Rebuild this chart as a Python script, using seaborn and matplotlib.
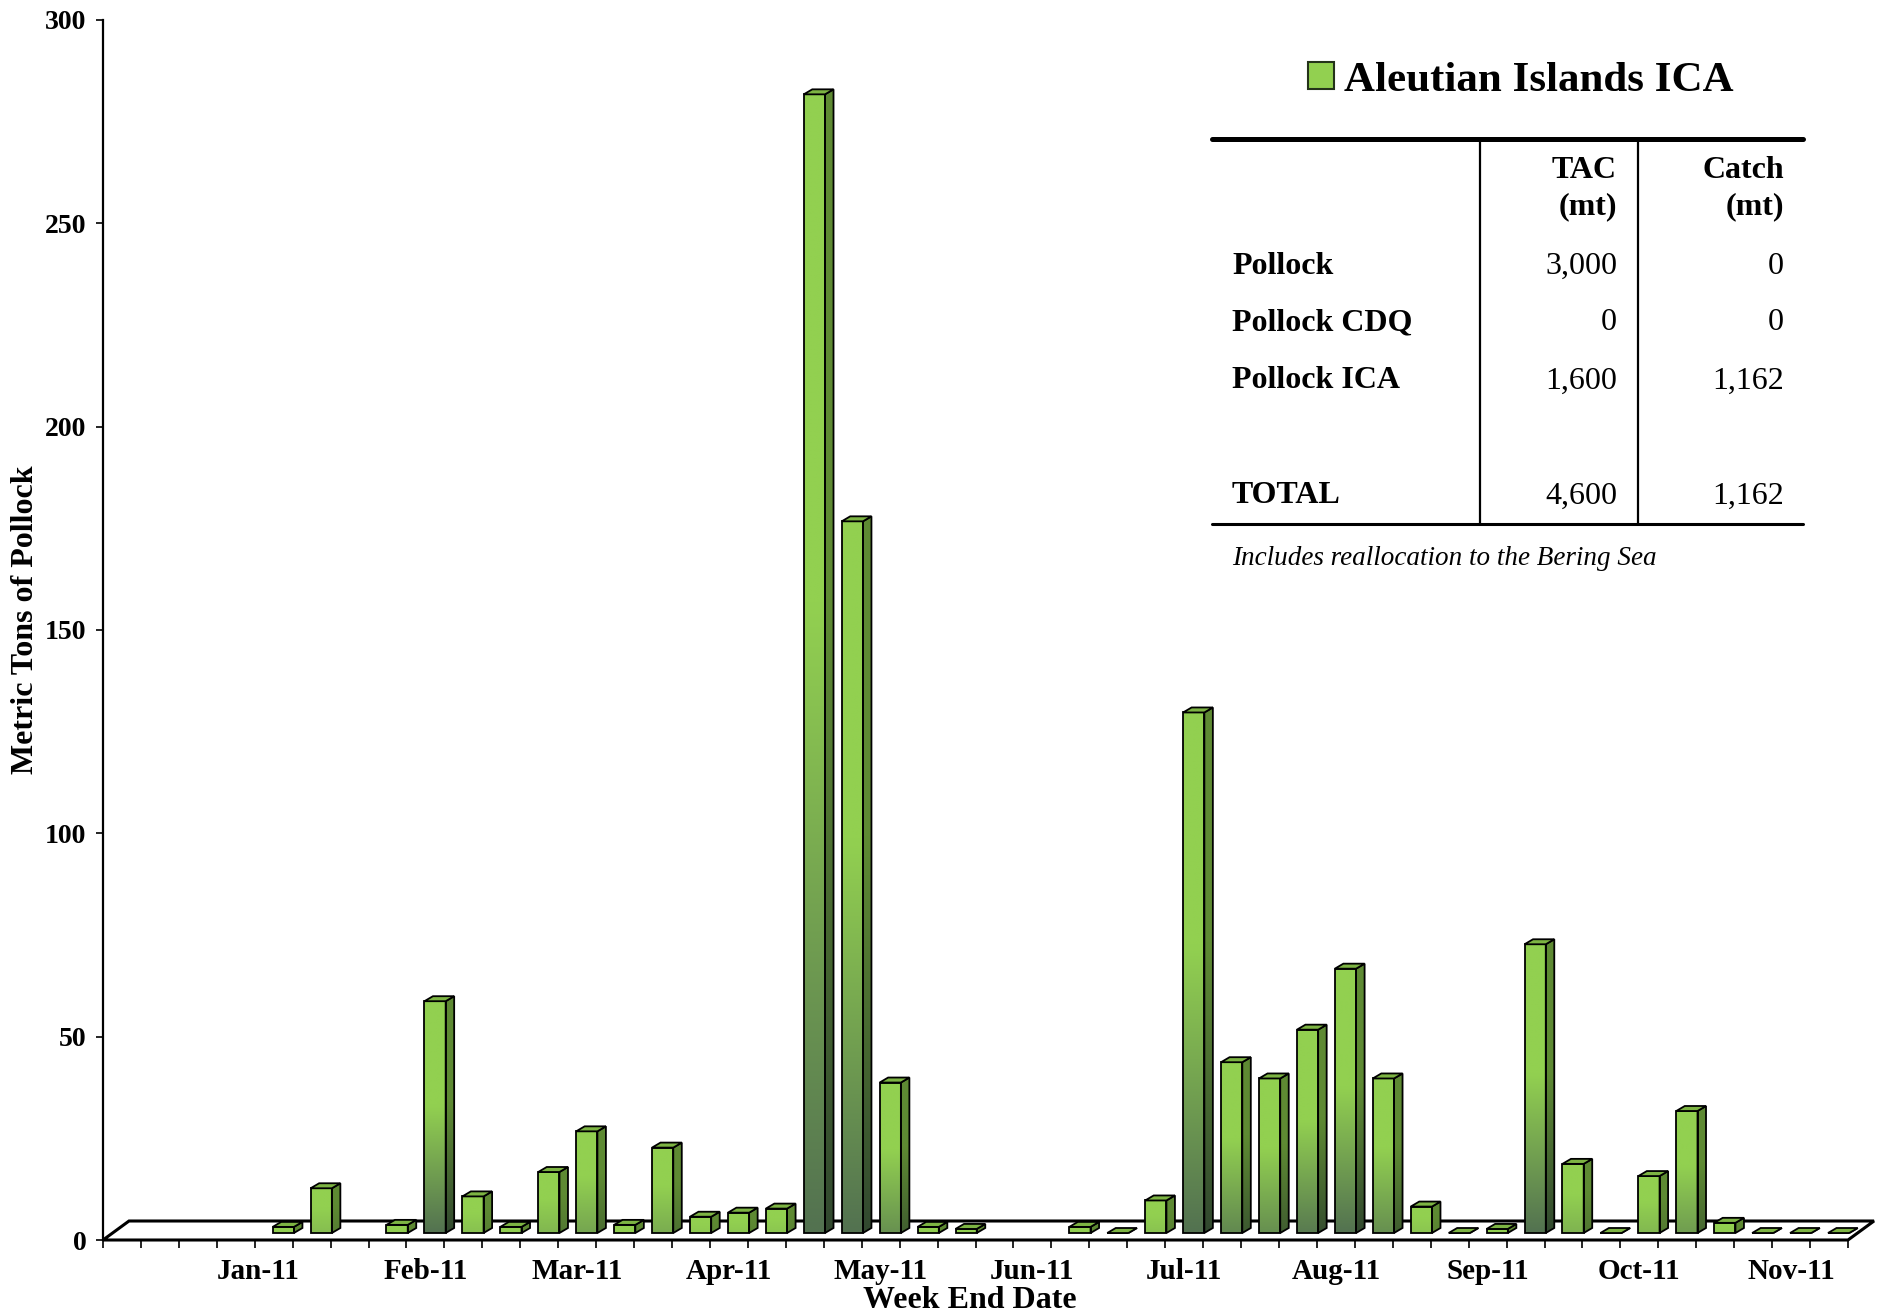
import numpy as np
import pandas as pd
import matplotlib
matplotlib.use("Agg")
import matplotlib.pyplot as plt
import seaborn as sns
from matplotlib.patches import Polygon, Patch
from matplotlib.colors import to_rgb

# weekly pollock catch in the Aleutian Islands ICA (mt), nan = no report
week_no = list(range(1, 47))
catch_mt = [np.nan, np.nan, np.nan, np.nan, 1.5, 11, np.nan, 2, 57, 9,
            1.5, 15, 25, 2, 21, 4, 5, 6, 280, 175,
            37, 1.5, 1, np.nan, np.nan, 1.5, 0, 8, 128, 42,
            38, 50, 65, 38, 6.5, 0, 1, 71, 17, 0,
            14, 30, 2.5, 0, 0, 0]
month_labels = ["Jan-11", "Feb-11", "Mar-11", "Apr-11", "May-11", "Jun-11",
                "Jul-11", "Aug-11", "Sep-11", "Oct-11", "Nov-11"]
month_pos = [3.6, 8, 12, 16, 20, 24, 28, 32, 36, 40, 44]

# summary table
tbl_rows = ["Pollock", "Pollock CDQ", "Pollock ICA", "TOTAL"]
tbl_tac = ["3,000", "0", "1,600", "4,600"]
tbl_catch = ["0", "0", "1,162", "1,162"]

df = pd.DataFrame({"week": [str(w) for w in week_no], "catch": catch_mt})

sns.set_theme(style="white")
plt.rcParams["font.family"] = ["Liberation Serif", "DejaVu Serif"]
plt.rcParams["text.color"] = "black"
plt.rcParams["xtick.color"] = "black"
plt.rcParams["ytick.color"] = "black"
plt.rcParams["axes.labelcolor"] = "black"

W, H = 1879, 1316
fig = plt.figure(figsize=(W / 100, H / 100), dpi=100)
fig.patch.set_facecolor("white")

# axes box in pixels
ax_l, ax_b, ax_w, ax_h = 103, 76, 1745, 1220
ax = fig.add_axes([ax_l / W, ax_b / H, ax_w / W, ax_h / H])
ax.set_facecolor("none")

n = len(week_no)
ymax = 300
px_slot = ax_w / n
px_unit = ax_h / ymax

green = "#92D050"
sns.barplot(data=df, x="week", y="catch", order=list(df["week"]), color=green,
            saturation=1, width=0.56, errorbar=None, edgecolor="black",
            linewidth=1.3, ax=ax, zorder=4)

# fake 3d: bars sit a bit behind the front edge of the floor
sx, sy = 9.6 / px_slot, 7.0 / px_unit
ddx, ddy = 8.5 / px_slot, 5.0 / px_unit
fdx, fdy = 26 / px_slot, 19 / px_unit

front_hi = np.array(to_rgb("#92D050"))
front_lo = np.array(to_rgb("#537250"))
side_hi = np.array(to_rgb("#5E8A33"))
side_lo = np.array(to_rgb("#32492F"))
top_col = "#7DB443"


def grad(hi, lo, h):
    t = np.linspace(0, 1, 120)
    k = min(1.0, h / 55.0)
    mix = np.clip((0.55 - t) / 0.55, 0, 1) * k
    cols = hi[None, :] * (1 - mix[:, None]) + lo[None, :] * mix[:, None]
    return cols[:, None, :]


# floor
floor = Polygon([(-0.5, 0), (n - 0.5, 0), (n - 0.5 + fdx, fdy), (-0.5 + fdx, fdy)],
                closed=True, facecolor="white", edgecolor="black", lw=2.2,
                zorder=1, clip_on=False)
ax.add_patch(floor)

for p in list(ax.patches):
    if p is floor:
        continue
    h = p.get_height()
    if not np.isfinite(h):
        continue
    xa = p.get_x() + sx
    xb = xa + p.get_width()
    ya = sy
    yb = sy + h
    p.set_x(xa)
    p.set_y(ya)
    p.set_facecolor("none")
    p.set_clip_on(False)
    if h > 0:
        im = ax.imshow(grad(front_hi, front_lo, h), extent=[xa, xb, ya, yb],
                       origin="lower", aspect="auto", zorder=3, interpolation="bilinear")
        im.set_clip_path(p)
    side = Polygon([(xb, ya), (xb + ddx, ya + ddy), (xb + ddx, yb + ddy), (xb, yb)],
                   closed=True, facecolor="none", edgecolor="black", lw=1.3,
                   zorder=4, clip_on=False)
    ax.add_patch(side)
    ims = ax.imshow(grad(side_hi, side_lo, h), extent=[xb, xb + ddx, ya, yb + ddy],
                    origin="lower", aspect="auto", zorder=3, interpolation="bilinear")
    ims.set_clip_path(side)
    top = Polygon([(xa, yb), (xb, yb), (xb + ddx, yb + ddy), (xa + ddx, yb + ddy)],
                  closed=True, facecolor=top_col, edgecolor="black", lw=1.3,
                  zorder=4, clip_on=False)
    ax.add_patch(top)

ax.set_xlim(-0.5, n - 0.5)
ax.set_ylim(0, ymax)

for s in ["top", "right", "bottom"]:
    ax.spines[s].set_visible(False)
ax.spines["left"].set_color("black")
ax.spines["left"].set_linewidth(1.6)

ax.set_yticks(range(0, 301, 50))
ax.tick_params(axis="y", left=True, length=5, width=1.2, color="black",
               labelcolor="black", pad=7, labelsize=20)
for t in ax.get_yticklabels():
    t.set_fontweight("bold")

ax.set_xticks(month_pos)
ax.set_xticklabels(month_labels, fontsize=21, fontweight="bold", color="black")
ax.set_xticks(np.arange(-0.5, n, 1), minor=True)
ax.tick_params(axis="x", which="major", bottom=True, length=0, pad=13)
ax.tick_params(axis="x", which="minor", bottom=True, length=6, width=1.2, color="black")
ax.set_xlabel("")
ax.set_ylabel("")
ax.grid(False)

fig.text(970 / W, 1 - 1301 / H, "Week End Date", ha="center", va="center",
         fontsize=23, fontweight="bold", color="black")
fig.text(26 / W, 1 - 620 / H, "Metric Tons of Pollock", ha="center", va="center",
         rotation=90, fontsize=23, fontweight="bold", color="black")

# legend
leg = fig.legend(handles=[Patch(facecolor=green, edgecolor="#24331a", lw=1.5,
                                label="Aleutian Islands ICA")],
                 loc="center", bbox_to_anchor=(1521 / W, 1 - 81 / H), frameon=False,
                 handlelength=0.6, handleheight=0.6, handletextpad=0.25,
                 prop={"family": "Liberation Serif", "weight": "bold", "size": 31})
for t in leg.get_texts():
    t.set_color("black")


# table with catch vs TAC
def fx(px):
    return px / W


def fy(py):
    return 1 - py / H


fig.add_artist(plt.Line2D([fx(1212), fx(1803)], [fy(139), fy(139)], color="black", lw=3.6))
fig.add_artist(plt.Line2D([fx(1212), fx(1803)], [fy(524), fy(524)], color="black", lw=2.2))
for vx in [1480, 1638]:
    fig.add_artist(plt.Line2D([fx(vx), fx(vx)], [fy(139), fy(524)], color="black", lw=1.6))

fig.text(fx(1617), fy(170), "TAC", ha="right", va="center", fontsize=23, fontweight="bold")
fig.text(fx(1617), fy(207), "(mt)", ha="right", va="center", fontsize=23, fontweight="bold")
fig.text(fx(1784), fy(170), "Catch", ha="right", va="center", fontsize=23, fontweight="bold")
fig.text(fx(1784), fy(207), "(mt)", ha="right", va="center", fontsize=23, fontweight="bold")

row_y = [266, 323, 381, 496]
for name, tac, ct, ry in zip(tbl_rows, tbl_tac, tbl_catch, row_y):
    fig.text(fx(1232), fy(ry), name, ha="left", va="center", fontsize=23, fontweight="bold")
    fig.text(fx(1617), fy(ry), tac, ha="right", va="center", fontsize=23)
    fig.text(fx(1784), fy(ry), ct, ha="right", va="center", fontsize=23)

fig.text(fx(1232), fy(559), "Includes reallocation to the Bering Sea", ha="left",
         va="center", fontsize=19.5, style="italic")

fig.savefig("out.png", dpi=100, facecolor="white")
